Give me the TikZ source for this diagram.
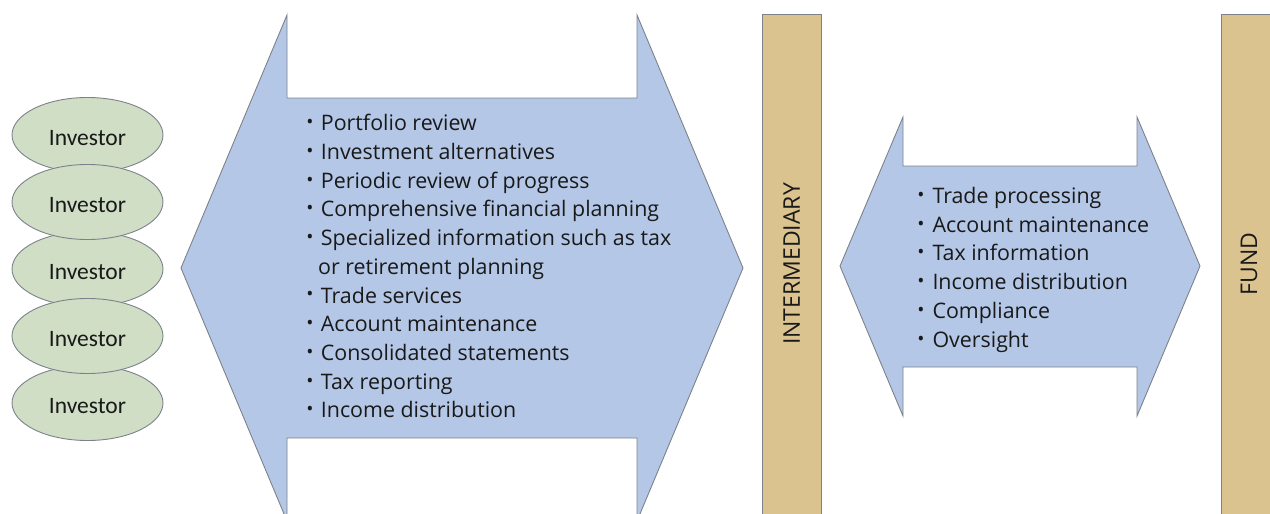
\documentclass[tikz,border=0pt]{standalone}
\usepackage{fontspec}
\setmainfont{Open Sans}
\newfontfamily\ovalfont{Carlito}
\usetikzlibrary{shapes.geometric}
\definecolor{edgegray}{RGB}{125,130,138}
\definecolor{ovalgreen}{RGB}{208,222,197}
\definecolor{flowblue}{RGB}{180,199,231}
\definecolor{bartan}{RGB}{218,195,143}
\definecolor{ink}{RGB}{25,25,25}
\tikzset{
  outline/.style={draw=edgegray, line width=0.9pt, line join=miter},
  investor/.style={ellipse, outline, fill=ovalgreen, minimum width=151pt, minimum height=75pt, inner sep=0pt},
  ovallabel/.style={font=\ovalfont\fontsize{23.5}{26}\selectfont, text=ink},
  flow/.style={outline, fill=flowblue},
  party/.style={outline, fill=bartan},
  item/.style={anchor=base west, inner sep=0pt, font=\fontsize{21.4}{26}\selectfont, text=ink},
  dot/.style={inner sep=0pt, font=\fontsize{19}{19}\selectfont, text=ink},
  barlabel/.style={rotate=90, font=\fontsize{23}{26}\selectfont, text=ink}
}
\begin{document}
\begin{tikzpicture}[x=1pt, y=-1pt]
\useasboundingbox (0,0) rectangle (1270,514);
\clip (0,0) rectangle (1270,514);

% two-headed arrow between investors and intermediary
\draw[flow] (181,268) -- (287,15) -- (287,98) -- (637,98) -- (637,15) -- (743,268)
  -- (637,521) -- (637,438) -- (287,438) -- (287,521) -- cycle;

% two-headed arrow between intermediary and fund
\draw[flow] (840,266) -- (903,117) -- (903,166) -- (1137,166) -- (1137,117) -- (1200,266)
  -- (1137,416) -- (1137,367) -- (903,367) -- (903,416) -- cycle;

% parties
\draw[party] (762,14) rectangle (821,540);
\draw[party] (1221,14) rectangle (1300,540);
\node[barlabel] (intermediary) at (791.5,264) {INTERMEDIARY};
\node[barlabel] (fund) at (1249,264) {FUND};

% stacked investors: odd ones behind, even ones in front
\foreach \i/\y in {1/135,3/269,5/403} {
  \node[investor] (inv\i) at (87.5,\y) {};
  \node[ovallabel] (invlabel\i) at ([yshift=-3pt]inv\i.center) {Investor};
}
\foreach \i/\y in {2/202,4/336} {
  \node[investor] (inv\i) at (87.5,\y) {};
  \node[ovallabel] (invlabel\i) at ([yshift=-3pt]inv\i.center) {Investor};
}

% services offered to investors
\foreach \k/\t in {0/Portfolio review, 1/Investment alternatives, 2/Periodic review of progress,
  3/Comprehensive financial planning, 4/Specialized information such as tax,
  6/Trade services, 7/Account maintenance, 8/Consolidated statements,
  9/Tax reporting, 10/Income distribution} {
  \node[item] (left\k) at (320.7,130.7+28.72*\k) {\t};
  \node[dot] (leftdot\k) at (310,124+28.72*\k) {\textbullet};
}
\node[item] (left5) at (318,130.7+28.72*5) {or retirement planning};

% services between intermediary and fund
\foreach \k/\t in {0/Trade processing, 1/Account maintenance, 2/Tax information,
  3/Income distribution, 4/Compliance, 5/Oversight} {
  \node[item] (right\k) at (932.3,203.3+28.8*\k) {\t};
  \node[dot] (rightdot\k) at (921,196.6+28.8*\k) {\textbullet};
}
\end{tikzpicture}
\end{document}
